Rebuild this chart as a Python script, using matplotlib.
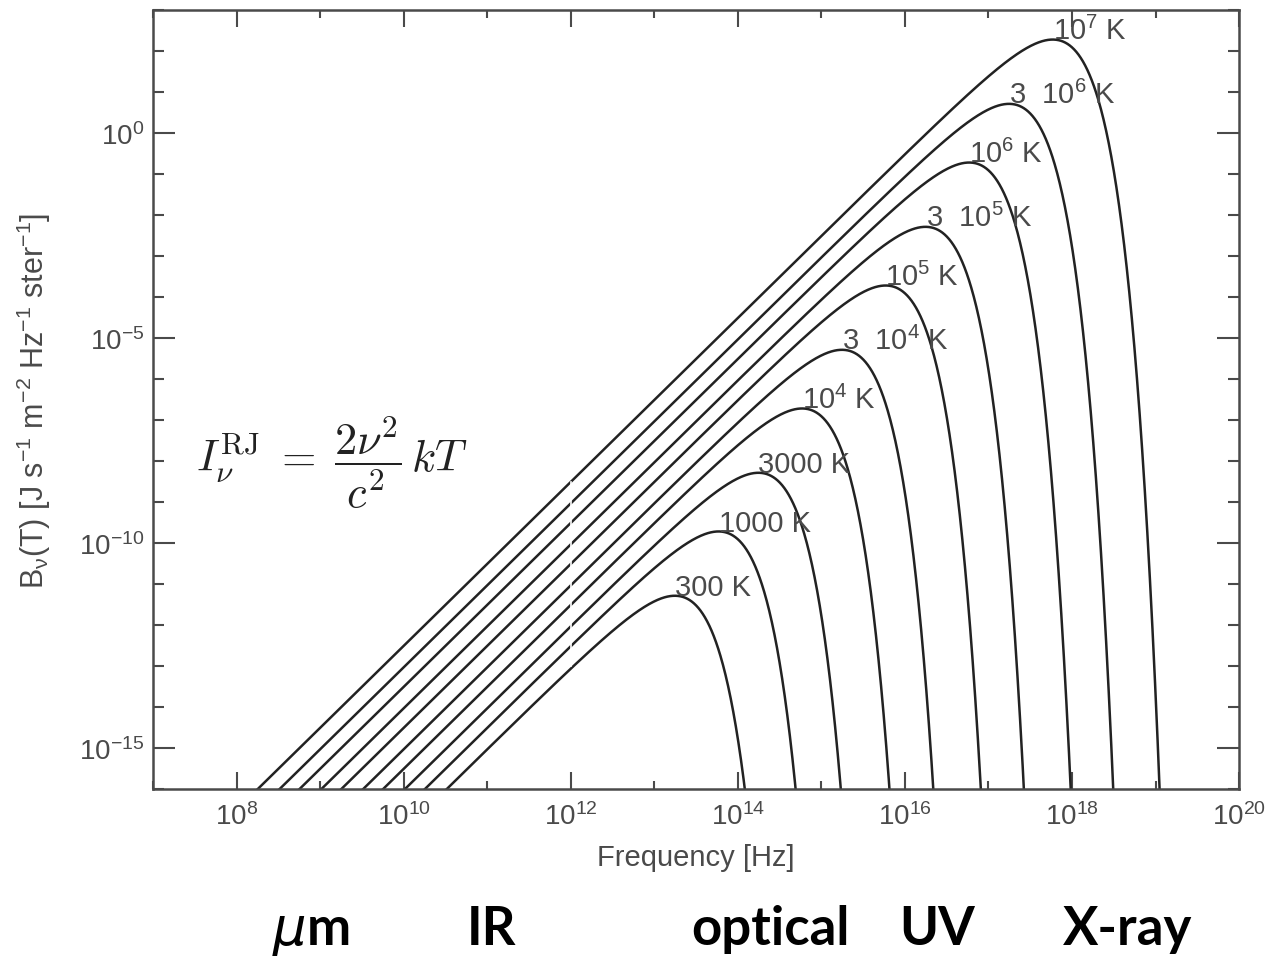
import matplotlib
matplotlib.use("Agg")
import matplotlib.pyplot as plt
import numpy as np
from matplotlib.ticker import LogLocator, NullFormatter

# temperatures of the curves [K] and their labels
temps = [300, 1000, 3000, 1e4, 3e4, 1e5, 3e5, 1e6, 3e6, 1e7]
labels = ["300 K", "1000 K", "3000 K",
          r"$\mathdefault{10^{4}}$ K", r"3  $\mathdefault{10^{4}}$ K",
          r"$\mathdefault{10^{5}}$ K", r"3  $\mathdefault{10^{5}}$ K",
          r"$\mathdefault{10^{6}}$ K", r"3  $\mathdefault{10^{6}}$ K",
          r"$\mathdefault{10^{7}}$ K"]

# wavebands written under the plot
bands = [r"$\mu$m", "IR", "optical", "UV", "X-ray"]

h = 6.626e-34
k = 1.381e-23
c = 2.998e8

def planck(nu, T):
    with np.errstate(over="ignore"):
        return 2 * h * nu**3 / c**2 / np.expm1(h * nu / (k * T))

plt.rcParams["font.family"] = ["Liberation Sans", "DejaVu Sans"]

ink = "#222222"
grey = "#4a4a4a"

fig = plt.figure(figsize=(12.86, 9.62), dpi=100)
ax = fig.add_axes([0.119, 0.179, 0.8445, 0.8096])

nu = np.logspace(7, 20.2, 3000)
for T, lab in zip(temps, labels):
    B = planck(nu, T)
    ax.plot(nu, B, color=ink, lw=1.8)
    i = np.nanargmax(B)
    ax.text(nu[i], B[i] * 1.05, lab, ha="left", va="baseline",
            fontsize=21, color=grey)

# faint white seam in the scanned figure
ax.plot([1e12, 1e12], [1e-13, 3e-9], color="white", lw=1.2)

ax.set_xscale("log")
ax.set_yscale("log")
ax.set_xlim(1e7, 1e20)
ax.set_ylim(1e-16, 1e3)

ax.xaxis.set_major_locator(LogLocator(base=100, numticks=20))
ax.xaxis.set_minor_locator(LogLocator(base=10, numticks=30))
ax.yaxis.set_major_locator(LogLocator(base=1e5, numticks=10))
ax.yaxis.set_minor_locator(LogLocator(base=10, numticks=30))
ax.xaxis.set_minor_formatter(NullFormatter())
ax.yaxis.set_minor_formatter(NullFormatter())

ax.tick_params(which="both", direction="in", top=True, right=True,
               color=grey, width=1.5, labelcolor=grey, labelsize=20)
ax.tick_params(axis="x", which="major", length=12, pad=10)
ax.tick_params(axis="x", which="minor", length=6)
ax.tick_params(axis="y", which="major", length=16, pad=6)
ax.tick_params(axis="y", which="minor", length=8)
for s in ax.spines.values():
    s.set_color(grey)
    s.set_linewidth(1.8)

ax.set_xlabel("Frequency [Hz]", fontsize=21, color=grey)
ax.xaxis.set_label_coords(0.5, -0.07)
ax.set_ylabel(r"B$_{\mathdefault{\nu}}$(T) [J s$^{\mathdefault{-1}}$ "
              r"m$^{\mathdefault{-2}}$ Hz$^{\mathdefault{-1}}$ "
              r"ster$^{\mathdefault{-1}}$]",
              fontsize=22, color=grey)
ax.yaxis.set_label_coords(-0.092, 0.5)

ax.text(0.04, 0.42, r"$I_\nu^{\rm RJ}\;=\;\dfrac{2\nu^2}{c^2}\,kT$",
        transform=ax.transAxes, fontsize=32, color=ink,
        math_fontfamily="cm", va="center", ha="left")

band_x = [0.242, 0.382, 0.599, 0.729, 0.877]
for b, x in zip(bands, band_x):
    fig.text(x, 0.018, b, ha="center", va="baseline", fontsize=38,
             fontweight="bold", family="Lato", color="black")

fig.savefig("out.png", dpi=100)
